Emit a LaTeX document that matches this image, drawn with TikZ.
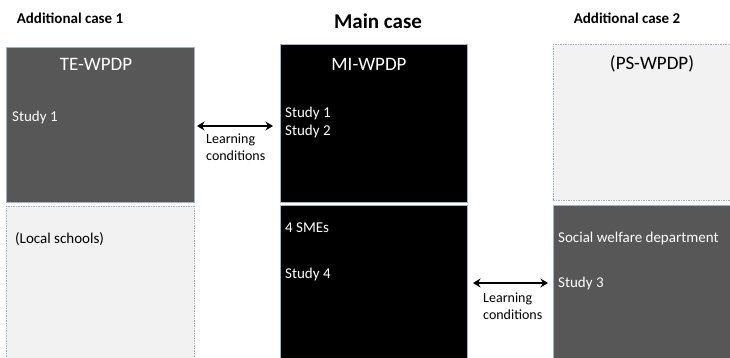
\documentclass[tikz,border=0pt]{standalone}
\usepackage{fontspec}
\setmainfont{Carlito}
\usetikzlibrary{arrows.meta}
\definecolor{darkbox}{HTML}{575757}
\definecolor{lightbox}{HTML}{F2F2F2}
\definecolor{edgeblue}{HTML}{9DB3CF}
\begin{document}
\begin{tikzpicture}[x=1pt,y=-1pt,
  solidbox/.style={draw=edgeblue, line width=0.6pt, anchor=north west, inner sep=0pt},
  dashbox/.style={draw=edgeblue, dashed, dash pattern=on 1.5pt off 1pt, line width=0.6pt, fill=lightbox, anchor=north west, inner sep=0pt},
  heading/.style={font=\fontsize{15}{17}\selectfont\bfseries, anchor=center},
  boxtitle/.style={font=\fontsize{19}{21}\selectfont, anchor=center},
  bodytext/.style={font=\fontsize{15}{17}\selectfont, anchor=base west, inner sep=0pt},
  smalltext/.style={font=\fontsize{14}{17}\selectfont, align=left, anchor=north west, inner sep=0pt},
  arr/.style={{Stealth[length=7.5pt,width=9pt]}-{Stealth[length=7.5pt,width=9pt]}, line width=2.2pt}]
\useasboundingbox (0,0) rectangle (730,358);
\clip (0,0) rectangle (730,358);
\fill[white] (0,0) rectangle (730,358);
% boxes
\node[solidbox, fill=darkbox, minimum width=188pt, minimum height=155pt] (te) at (6,47) {};
\node[dashbox, minimum width=188pt, minimum height=160pt] (ls) at (6,206) {};
\node[solidbox, fill=black, minimum width=187pt, minimum height=158pt] (mi) at (280,44) {};
\node[solidbox, fill=black, minimum width=187pt, minimum height=160pt] (sme) at (280,205) {};
\node[dashbox, minimum width=185pt, minimum height=156pt] (ps) at (553,44) {};
\node[solidbox, fill=darkbox, minimum width=185pt, minimum height=160pt] (sw) at (553,205) {};
% headings
\node[heading] (h1) at (70,18) {Additional case 1};
\node[heading, font=\fontsize{21}{23}\selectfont\bfseries] (h2) at (378,21) {Main case};
\node[heading] (h3) at (627,18) {Additional case 2};
% box titles
\node[boxtitle, text=white] (tet) at (96,64) {TE-WPDP};
\node[boxtitle, text=white] (mit) at (369,64) {MI-WPDP};
\node[boxtitle, text=black] (pst) at (652,64) {(PS-WPDP)};
% body texts
\node[bodytext, text=white] (tes1) at (12,122) {Study 1};
\node[bodytext, text=white] (mis1) at (285,118) {Study 1};
\node[bodytext, text=white] (mis2) at (285,136) {Study 2};
\node[bodytext, text=black] (lst) at (15,243) {(Local schools)};
\node[bodytext, text=white] (smet) at (285,232) {4 SMEs};
\node[bodytext, text=white] (s4) at (285,278) {Study 4};
\node[bodytext, text=white] (swt) at (558,242) {Social welfare department};
\node[bodytext, text=white] (s3) at (558,287) {Study 3};
% arrows
\coordinate (a1s) at (197,126);
\coordinate (a1e) at (273,126);
\coordinate (a2s) at (473,283);
\coordinate (a2e) at (548,283);
\draw[arr] (a1s) -- (a1e);
\draw[arr] (a2s) -- (a2e);
\node[smalltext] (l1) at (206,134) {Learning\\conditions};
\node[smalltext] (l2) at (483,293) {Learning\\conditions};
\end{tikzpicture}
\end{document}
